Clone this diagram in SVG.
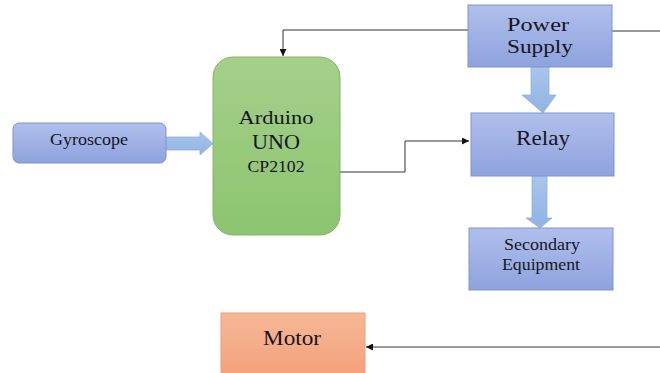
<svg xmlns="http://www.w3.org/2000/svg" width="660" height="373" viewBox="0 0 660 373">
<defs>
<linearGradient id="gBlue" x1="0" y1="0" x2="0" y2="1"><stop offset="0" stop-color="#b0bfec"/><stop offset="1" stop-color="#8ea2dd"/></linearGradient>
<linearGradient id="gGreen" x1="0" y1="0" x2="0" y2="1"><stop offset="0" stop-color="#a4d08a"/><stop offset="1" stop-color="#8cc46f"/></linearGradient>
<linearGradient id="gOrange" x1="0" y1="0" x2="0" y2="1"><stop offset="0" stop-color="#f7b896"/><stop offset="1" stop-color="#f3a07a"/></linearGradient>
<linearGradient id="gArrow" x1="0" y1="0" x2="0" y2="1"><stop offset="0" stop-color="#a9c6ea"/><stop offset="1" stop-color="#8fb3e2"/></linearGradient>
<marker id="ah" viewBox="0 0 10 10" refX="10" refY="5" markerWidth="7" markerHeight="7" orient="auto" markerUnits="userSpaceOnUse"><path d="M0,0 L10,5 L0,10 z" fill="#111"/></marker>
</defs>
<style>
.box{fill:url(#gBlue);stroke:#7f95cf;stroke-width:1}
.t{fill:#161622;text-anchor:middle}
.ln{fill:none;stroke:#333;stroke-width:1;marker-end:url(#ah)}
.ln2{fill:none;stroke:#333;stroke-width:1}
.ba{fill:url(#gArrow);stroke:#8fb0de;stroke-width:0.8}
</style>
<rect width="660" height="373" fill="#ffffff"/>
<g id="connectors">
<path class="ln" d="M468,30 H283 V56"/>
<path class="ln2" d="M612,31 H660"/>
<path class="ln" d="M340,172 H405 V141 H469"/>
<path class="ln" d="M660,347 H366"/>
<path class="ba" d="M166,137 H200 V132 L213,143.5 L200,155 V150 H166 Z"/>
<path class="ba" d="M531,67 H549 V95 H556 L543,113 L522,95 H531 Z"/>
<path class="ba" d="M532,176 H547 V218 H552 L540,228 L526,218 H532 Z"/>
</g>
<g font-family="'Liberation Serif', 'DejaVu Serif', serif">
<g id="gyroscope">
<rect x="13" y="123" width="153" height="40" rx="6" fill="url(#gBlue)" stroke="#7f95cf"/>
<text class="t" x="89" y="145" font-size="16" textLength="78" lengthAdjust="spacingAndGlyphs">Gyroscope</text>
</g>
<g id="arduino">
<rect x="213" y="57" width="127" height="178" rx="20" fill="url(#gGreen)" stroke="#86b46a"/>
<text class="t" x="276" y="124" font-size="19" textLength="75" lengthAdjust="spacingAndGlyphs">Arduino</text>
<text class="t" x="276" y="149" font-size="21" textLength="48" lengthAdjust="spacingAndGlyphs">UNO</text>
<text class="t" x="276" y="172" font-size="16" textLength="57" lengthAdjust="spacingAndGlyphs">CP2102</text>
</g>
<g id="power">
<rect class="box" x="468" y="5" width="144" height="62"/>
<text class="t" x="538" y="31" font-size="19" textLength="62" lengthAdjust="spacingAndGlyphs">Power</text>
<text class="t" x="540" y="53" font-size="19" textLength="66" lengthAdjust="spacingAndGlyphs">Supply</text>
</g>
<g id="relay">
<rect class="box" x="471" y="113" width="143" height="63"/>
<text class="t" x="543" y="145" font-size="21" textLength="54" lengthAdjust="spacingAndGlyphs">Relay</text>
</g>
<g id="secondary">
<rect class="box" x="469" y="228" width="144" height="62"/>
<text class="t" x="542" y="250" font-size="16" textLength="76" lengthAdjust="spacingAndGlyphs">Secondary</text>
<text class="t" x="541" y="270" font-size="16" textLength="78" lengthAdjust="spacingAndGlyphs">Equipment</text>
</g>
<g id="motor">
<rect x="221" y="313" width="144" height="64" fill="url(#gOrange)" stroke="#e8a07c"/>
<text class="t" x="292" y="345" font-size="20" textLength="58" lengthAdjust="spacingAndGlyphs">Motor</text>
</g>
</g>
</svg>
